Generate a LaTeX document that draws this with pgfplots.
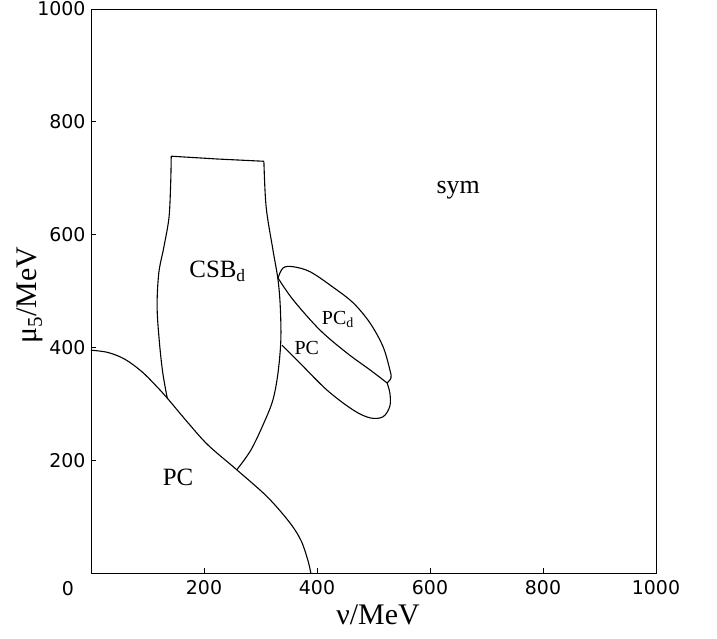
\documentclass[border=0pt]{standalone}
\usepackage{fontspec}
\setmainfont{Liberation Serif}
\newfontfamily\dejavu{DejaVu Sans}
\usepackage{pgfplots}
\pgfplotsset{compat=1.18}
\begin{document}
\begin{tikzpicture}[x=1bp,y=1bp]
\useasboundingbox (-91bp,-66bp) rectangle (626bp,573bp);
\begin{axis}[
  at={(0,0)}, anchor=south west,
  width=565bp, height=564bp, scale only axis,
  xmin=0, xmax=1000, ymin=0, ymax=1000,
  xtick={200,400,600,800,1000}, ytick={200,400,600,800,1000},
  tick align=inside, major tick length=5bp,
  xtick pos=bottom, ytick pos=left,
  axis line style={line width=0.9bp},
  tick style={line width=0.8bp, black},
  /pgf/number format/1000 sep={},
  /pgf/number format/assume math mode=true,
  ticklabel style={font=\dejavu\fontsize{19}{22}\selectfont},
  xticklabel style={yshift=-4bp},
  yticklabel style={xshift=-2bp},
  xlabel={ν/MeV}, ylabel={μ\textsubscript{5}/MeV},
  label style={font=\fontsize{30}{34}\selectfont},
  xlabel style={at={(axis description cs:0.508,-0.0745)},anchor=center},
  ylabel style={at={(axis description cs:-0.108,0.493)},anchor=center},
  every axis plot/.append style={line width=1.1bp, black, no marks},
  clip=false,
]
% lower PC boundary
\addplot[smooth, tension=0.55] coordinates {
(0,395) (30,391) (60,379) (90,357) (115,332) (135,310) (172,266) (207,227) (258,183)
(312,135) (352,89) (372,57) (384,22) (389,0)};
% CSB_d region
\addplot[smooth, tension=0.55] coordinates {
(135,310) (127,355) (121,410) (117,472) (120,532) (129,578) (138,630) (141,690) (142,739)};
\addplot[sharp plot] coordinates {(142,739) (224,734) (306,730)};
\addplot[smooth, tension=0.55] coordinates {
(306,730) (310,649) (322,573) (331,520) (335,472) (336,413) (331,355) (322,307) (306,266) (283,218) (258,183)};
% PC_d upper lobe
\addplot[smooth, tension=0.55] coordinates {
(331,523) (340,541) (358,543) (388,534) (428,507) (464,479) (494,443) (517,401) (529,360) (531,346) (524,337)};
% divider
\addplot[smooth, tension=0.55] coordinates {
(331,523) (358,484) (405,431) (453,390) (494,360) (524,337)};
% lower PC lobe
\addplot[smooth, tension=0.55] coordinates {
(338,404) (370,372) (418,324) (464,289) (494,275) (517,277) (529,296) (529,319) (524,337)};
% labels
\node[font=\fontsize{26}{30}\selectfont] at (axis cs:650,679) {sym};
\node[font=\fontsize{25}{30}\selectfont] at (axis cs:224,535) {CSB\textsubscript{d}};
\node[font=\fontsize{20}{24}\selectfont] at (axis cs:437,449) {PC\textsubscript{d}};
\node[font=\fontsize{20}{24}\selectfont] at (axis cs:382,399) {PC};
\node[font=\fontsize{25}{30}\selectfont] at (axis cs:154,170) {PC};
\node[font=\dejavu\fontsize{19}{22}\selectfont] at (axis description cs:-0.0407,-0.0284) {0};
\end{axis}
\end{tikzpicture}
\end{document}
